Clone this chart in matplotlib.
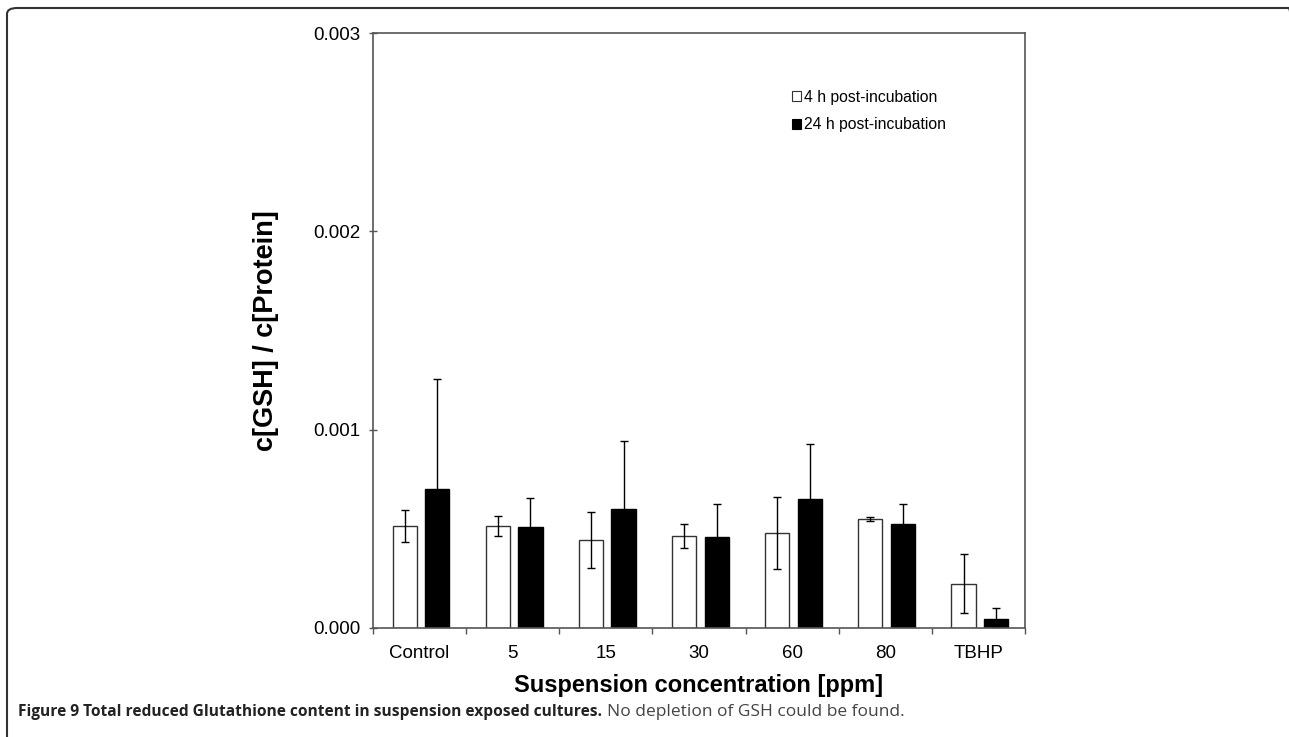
import numpy as np
import matplotlib.pyplot as plt
from matplotlib.patches import FancyBboxPatch, Patch

plt.rcParams["font.family"] = ["Liberation Sans", "DejaVu Sans"]

# GSH / protein ratio per treatment, mean and SD
categories = ['Control', '5', '15', '30', '60', '80', 'TBHP']
gsh_4h = [0.000514, 0.000514, 0.000444, 0.000462, 0.000479, 0.000548, 0.000223]
sd_4h = [0.000082, 0.000050, 0.000140, 0.000060, 0.000183, 0.000010, 0.000148]
gsh_24h = [0.000702, 0.000508, 0.000599, 0.000457, 0.000652, 0.000523, 0.000047]
sd_24h = [0.000552, 0.000146, 0.000346, 0.000170, 0.000277, 0.000104, 0.000053]
yticks = [0.0, 0.001, 0.002, 0.003]

fig = plt.figure(figsize=(12.89, 7.37), dpi=100)
ax = fig.add_axes([373 / 1289, 109 / 737, 652 / 1289, 595 / 737])

x = np.arange(len(categories))
edge = '#333333'
err_kw = dict(ecolor='black', elinewidth=1.0, capsize=2.8, capthick=1.0)
ax.bar(x - 0.16, gsh_4h, width=0.26, color='white', edgecolor=edge, linewidth=1.0,
       yerr=sd_4h, error_kw=err_kw, label='4 h post-incubation')
ax.bar(x + 0.19, gsh_24h, width=0.26, color='black', edgecolor='black', linewidth=1.0,
       yerr=sd_24h, error_kw=err_kw, label='24 h post-incubation')

ax.set_xlim(-0.5, len(categories) - 0.5)
ax.set_ylim(0, 0.003)
ax.set_yticks(yticks)
ax.set_yticklabels(['%.3f' % v for v in yticks], fontsize=13.5)
ax.tick_params(axis='y', direction='inout', length=6, width=1, color='#555555', pad=6)

# boundary ticks without labels, labels at the group centres
ax.set_xticks(np.arange(-0.5, len(categories), 1))
ax.set_xticklabels([])
ax.tick_params(axis='x', which='major', direction='out', length=4, width=1, color='#555555')
ax.set_xticks(x, minor=True)
ax.set_xticklabels(categories, minor=True, fontsize=13.5)
ax.tick_params(axis='x', which='minor', length=0, pad=12)

for s in ax.spines.values():
    s.set_color('#555555')
    s.set_linewidth(1.2)

ax.set_xlabel('Suspension concentration [ppm]', fontsize=17, fontweight='bold', labelpad=9)
ax.set_ylabel('c[GSH] / c[Protein]', fontsize=19.5, fontweight='bold', labelpad=25)

handles = [Patch(facecolor='white', edgecolor=edge, linewidth=0.8),
           Patch(facecolor='black', edgecolor='black', linewidth=0.8)]
ax.legend(handles, ['4 h post-incubation', '24 h post-incubation'],
          loc='upper left', bbox_to_anchor=(0.642, 0.905), frameon=False,
          fontsize=11.3, handlelength=0.6, handleheight=0.6, handletextpad=0.2,
          labelspacing=0.8, borderpad=0, borderaxespad=0)

# caption below the chart
cap_bold = fig.text(18 / 1289, 1 - 712 / 737,
                    'Figure 9 Total reduced Glutathione content in suspension exposed cultures.',
                    fontsize=11.2, fontweight='bold', family=['Open Sans', 'DejaVu Sans'],
                    va='center', ha='left', color='#222222')
fig.canvas.draw()
bb = cap_bold.get_window_extent()
fig.text((bb.x1 + 5) / 1289, 1 - 712 / 737, 'No depletion of GSH could be found.',
         fontsize=12.5, family=['Open Sans', 'DejaVu Sans'], va='center', ha='left',
         color='#444444')

# rounded frame around the figure panel
frame = FancyBboxPatch((7 / 1289, -0.05), (1289 - 7 + 10) / 1289, 1 - 8 / 737 + 0.05,
                       boxstyle='round,pad=0,rounding_size=0.008', transform=fig.transFigure,
                       facecolor='none', edgecolor='#333333', linewidth=1.5, clip_on=False)
fig.patches.append(frame)

fig.savefig('out.png', dpi=100)
